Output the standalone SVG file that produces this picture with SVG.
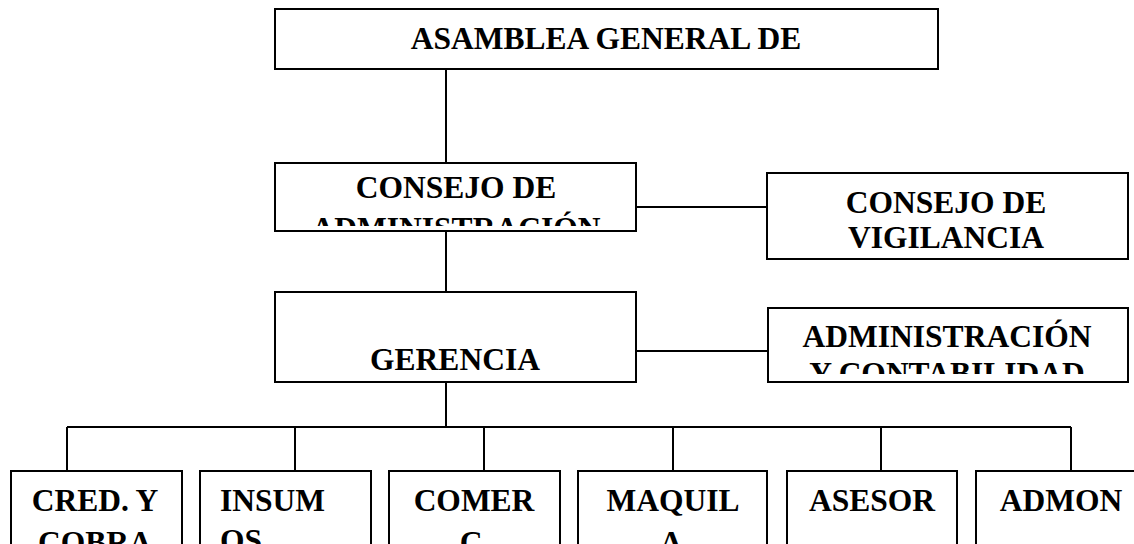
<svg xmlns="http://www.w3.org/2000/svg" width="1134" height="544" viewBox="0 0 1134 544">
<style>
.box{fill:#fff;stroke:#000;stroke-width:2}
.ln{stroke:#000;stroke-width:2;fill:none}
text{font-family:"Liberation Serif","Times New Roman",serif;font-weight:bold;font-size:31.5px;fill:#000}
.c{text-anchor:middle}
</style>
<defs>
<clipPath id="cpAdm"><rect x="276" y="164" width="360" height="62"/></clipPath>
<clipPath id="cpCont"><rect x="769" y="309" width="358" height="65"/></clipPath>
</defs>
<g id="connectors">
<line class="ln" x1="446" y1="69" x2="446" y2="163"/>
<line class="ln" x1="446" y1="231" x2="446" y2="292"/>
<line class="ln" x1="446" y1="382" x2="446" y2="427"/>
<line class="ln" x1="636" y1="207" x2="767" y2="207"/>
<line class="ln" x1="636" y1="351" x2="768" y2="351"/>
<line class="ln" x1="67" y1="427" x2="1071" y2="427"/>
<line class="ln" x1="67" y1="427" x2="67" y2="471"/>
<line class="ln" x1="295" y1="427" x2="295" y2="471"/>
<line class="ln" x1="484" y1="427" x2="484" y2="471"/>
<line class="ln" x1="673" y1="427" x2="673" y2="471"/>
<line class="ln" x1="881" y1="427" x2="881" y2="471"/>
<line class="ln" x1="1071" y1="427" x2="1071" y2="471"/>
</g>
<g id="asamblea">
<rect class="box" x="275" y="9" width="663" height="60"/>
<text class="c" x="606" y="49">ASAMBLEA GENERAL DE</text>
</g>
<g id="consejo-administracion">
<rect class="box" x="275" y="163" width="361" height="68"/>
<g clip-path="url(#cpAdm)">
<text class="c" x="456" y="198">CONSEJO DE</text>
<text class="c" x="456" y="239">ADMINISTRACIÓN</text>
</g>
</g>
<g id="consejo-vigilancia">
<rect class="box" x="767" y="173" width="361" height="86"/>
<text class="c" x="946" y="213">CONSEJO DE</text>
<text class="c" x="946" y="248">VIGILANCIA</text>
</g>
<g id="gerencia">
<rect class="box" x="275" y="292" width="361" height="90"/>
<text class="c" x="455" y="370">GERENCIA</text>
</g>
<g id="administracion-contabilidad">
<rect class="box" x="768" y="308" width="360" height="74"/>
<g clip-path="url(#cpCont)">
<text class="c" x="947" y="347">ADMINISTRACIÓN</text>
<text class="c" x="947" y="384">Y CONTABILIDAD</text>
</g>
</g>
<g id="cred">
<rect class="box" x="11" y="471" width="171" height="90"/>
<text class="c" x="95" y="511">CRED. Y</text>
<text class="c" x="95" y="553">COBRA</text>
</g>
<g id="insumos">
<rect class="box" x="200" y="471" width="171" height="90"/>
<text x="220" y="511">INSUM</text>
<text x="220" y="551">OS</text>
</g>
<g id="comerc">
<rect class="box" x="389" y="471" width="171" height="90"/>
<text class="c" x="474" y="511">COMER</text>
<text class="c" x="471" y="553">C</text>
</g>
<g id="maquila">
<rect class="box" x="578" y="471" width="189" height="90"/>
<text class="c" x="673" y="511">MAQUIL</text>
<text class="c" x="671" y="553">A</text>
</g>
<g id="asesor">
<rect class="box" x="787" y="471" width="170" height="90"/>
<text class="c" x="872" y="511">ASESOR</text>
</g>
<g id="admon">
<rect class="box" x="976" y="471" width="170" height="90"/>
<text class="c" x="1061" y="511">ADMON</text>
</g>
</svg>
